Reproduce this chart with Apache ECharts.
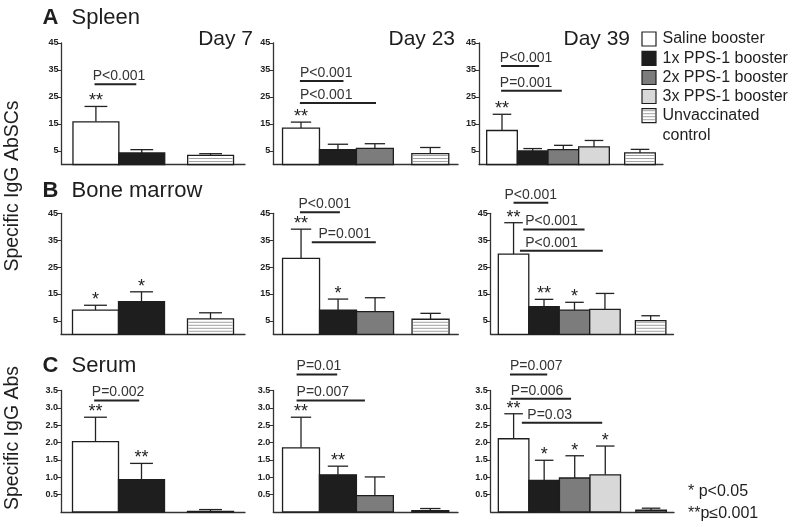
<!DOCTYPE html>
<html><head><meta charset="utf-8">
<script src="https://cdn.jsdelivr.net/npm/echarts@6/dist/echarts.min.js"></script>
<style>html,body{margin:0;padding:0;background:#fff}#c{width:797px;height:527px}</style>
</head><body><div id="c"></div>
<script>
// ---------- data ----------
const groupNames = ['Saline booster','1x PPS-1 booster','2x PPS-1 booster','3x PPS-1 booster','Unvaccinated\ncontrol'];
const dayLabels = ['Day 7','Day 23','Day 39'];
const tissueLabels = ['Spleen','Bone marrow','Serum'];
const panelLetters = ['A','B','C'];
const yTitles = ['Specific IgG AbSCs','Specific IgG Abs'];
const abscTicks = [5,15,25,35,45];
const serumTicks = [0.5,1.0,1.5,2.0,2.5,3.0,3.5];
const footnotes = ['* p<0.05','**p\u22640.001'];

// Spleen
const spleenD7 = [15.8, 4.3, null, null, 3.4];
const spleenD7Err = [5.7, 1.2, null, null, 0.6];
const spleenD7Sig = ['**','','','',''];
const spleenD7P = [[-0.03, 0.88, 29.7, 'P<0.001', -0.07]];
const spleenD23 = [13.5, 5.5, 6.0, null, 4.0];
const spleenD23Err = [2.2, 2.0, 1.7, null, 2.3];
const spleenD23Sig = ['**','','','',''];
const spleenD23P = [[-0.03, 1.15, 30.9, 'P<0.001', -0.03], [-0.03, 2.03, 22.8, 'P<0.001', -0.03]];
const spleenD39 = [12.6, 5.0, 5.5, 6.5, 4.3];
const spleenD39Err = [6.0, 0.9, 1.6, 2.4, 1.3];
const spleenD39Sig = ['**','','','',''];
const spleenD39P = [[-0.03, 1.21, 36.5, 'P<0.001', -0.07], [-0.03, 1.95, 27.3, 'P=0.001', -0.07]];
// Bone marrow
const marrowD7 = [9.0, 12.1, null, null, 5.7];
const marrowD7Err = [1.8, 3.7, null, null, 2.3];
const marrowD7Sig = ['*','*','','',''];
const marrowD7P = [];
const marrowD23 = [28.2, 9.0, 8.4, null, 5.6];
const marrowD23Err = [10.9, 4.1, 5.2, null, 2.2];
const marrowD23Sig = ['**','*','','',''];
const marrowD23P = [[-0.03, 1.05, 45.4, 'P<0.001', -0.07], [0.29, 2.02, 34.2, 'P=0.001', 0.47]];
const marrowD39 = [29.8, 10.3, 9.0, 9.3, 5.1];
const marrowD39Err = [11.7, 2.7, 2.9, 5.9, 1.8];
const marrowD39Sig = ['**','**','*','',''];
const marrowD39P = [[0, 1.14, 48.9, 'P<0.001', -0.3], [0.32, 2.33, 39.0, 'P<0.001', 0.38], [0.21, 2.93, 31.1, 'P<0.001', 0.38]];
// Serum
const serumD7 = [2.03, 0.93, null, null, 0.02];
const serumD7Err = [0.70, 0.47, null, null, 0.05];
const serumD7Sig = ['**','**','','',''];
const serumD7P = [[-0.03, 0.95, 3.21, 'P=0.002', -0.08]];
const serumD23 = [1.85, 1.07, 0.47, null, 0.04];
const serumD23Err = [0.88, 0.25, 0.54, null, 0.06];
const serumD23Sig = ['**','**','','',''];
const serumD23P = [[-0.12, 0.98, 3.96, 'P=0.01', -0.12], [-0.12, 1.73, 3.21, 'P=0.007', -0.12]];
const serumD39 = [2.11, 0.91, 0.98, 1.07, 0.05];
const serumD39Err = [0.72, 0.58, 0.64, 0.83, 0.06];
const serumD39Sig = ['**','*','*','*',''];
const serumD39P = [[-0.12, 1.10, 3.96, 'P=0.007', -0.12], [-0.1, 1.88, 3.26, 'P=0.006', -0.09], [0.27, 2.9, 2.57, 'P=0.03', 0.45]];

// ---------- layout / style ----------
const FONT = '"Liberation Sans", Arial, sans-serif';
const INK = '#1e1e1e';
const FILLS = ['#ffffff', '#1e1e1e', '#7c7c7c', '#d8d8d8', '#ffffff'];
const rowTop = [43, 213.3, 390.5];
const rowBottom = [164.5, 334.3, 512];
const colX = [
  [[61.5,245],[273.3,458],[479,663]],
  [[61,245],[273.3,458.3],[490.7,673.5]],
  [[61,245],[273.3,458],[490.7,674]]
];
const panelData = [
  [[spleenD7, spleenD7Err, spleenD7Sig, spleenD7P],[spleenD23, spleenD23Err, spleenD23Sig, spleenD23P],[spleenD39, spleenD39Err, spleenD39Sig, spleenD39P]],
  [[marrowD7, marrowD7Err, marrowD7Sig, marrowD7P],[marrowD23, marrowD23Err, marrowD23Sig, marrowD23P],[marrowD39, marrowD39Err, marrowD39Sig, marrowD39P]],
  [[serumD7, serumD7Err, serumD7Sig, serumD7P],[serumD23, serumD23Err, serumD23Sig, serumD23P],[serumD39, serumD39Err, serumD39Sig, serumD39P]]
];

const grids = [], xAxes = [], yAxes = [], series = [];
let k = 0;
for (let r = 0; r < 3; r++) {
  for (let c = 0; c < 3; c++) {
    const [mean, err, sig, pv] = panelData[r][c];
    const nBoost = mean.slice(0,4).filter(v => v != null).length;
    const items = [];
    mean.forEach((v, g) => {
      if (v == null) return;
      const pos = g < 4 ? g : nBoost + 0.5;
      items.push({ g, pos, mean: v, err: err[g], sig: sig[g] });
    });
    const [x0, x1] = colX[r][c];
    grids.push({ left: x0, top: rowTop[r], width: x1 - x0, height: rowBottom[r] - rowTop[r] });
    xAxes.push({
      type: 'value', gridIndex: k, min: -0.75, max: nBoost + 1.25,
      axisLine: { show: true, onZero: false, lineStyle: { color: '#333', width: 1.3 } },
      axisTick: { show: false }, axisLabel: { show: false }, splitLine: { show: false }
    });
    const isSerum = r === 2;
    const ticks = isSerum ? serumTicks : abscTicks;
    yAxes.push({
      type: 'value', gridIndex: k, min: 0, max: isSerum ? 3.5 : 45, interval: isSerum ? 0.5 : 5,
      axisLine: { show: true, onZero: false, lineStyle: { color: '#333', width: 1.3 } },
      axisTick: { show: true, length: 4, customValues: ticks, lineStyle: { color: '#333', width: 1 } },
      axisLabel: { show: true, customValues: ticks, margin: 3, fontSize: 9, fontWeight: 'bold', color: '#222', fontFamily: FONT,
        formatter: v => isSerum ? Number(v).toFixed(1) : String(v) },
      splitLine: { show: false }
    });
    series.push({
      type: 'custom', xAxisIndex: k, yAxisIndex: k, clip: false, silent: true,
      data: items.map(b => [b.pos, b.mean]),
      renderItem: (params, api) => {
        const b = items[params.dataIndex];
        const tl = api.coord([b.pos - 0.5, b.mean]);
        const br = api.coord([b.pos + 0.5, 0]);
        const w = br[0] - tl[0], h = br[1] - tl[1];
        const ch = [];
        const ctop = api.coord([b.pos, b.mean]);
        const etop = api.coord([b.pos, b.mean + b.err]);
        const cap = 10 + w * 0.28;
        ch.push({ type: 'line', shape: { x1: ctop[0], y1: ctop[1], x2: etop[0], y2: etop[1] }, style: { stroke: '#222', lineWidth: 1.3 } });
        ch.push({ type: 'line', shape: { x1: etop[0] - cap / 2, y1: etop[1], x2: etop[0] + cap / 2, y2: etop[1] }, style: { stroke: '#222', lineWidth: 1.3 } });
        ch.push({ type: 'rect', shape: { x: tl[0], y: tl[1], width: w, height: h }, style: { fill: FILLS[b.g], stroke: INK, lineWidth: 1.3 } });
        if (b.g === 4) {
          for (let yy = br[1] - 3; yy > tl[1] + 1.5; yy -= 3) {
            ch.push({ type: 'line', shape: { x1: tl[0] + 1, y1: yy, x2: br[0] - 1, y2: yy }, style: { stroke: '#888', lineWidth: 0.8 } });
          }
        }
        if (b.sig) {
          ch.push({ type: 'text', style: { text: b.sig, x: etop[0], y: etop[1] - 5, align: 'center', verticalAlign: 'middle', font: '18px ' + FONT, fill: '#222' } });
        }
        return { type: 'group', children: ch };
      }
    });
    if (pv.length) {
      series.push({
        type: 'custom', xAxisIndex: k, yAxisIndex: k, clip: false, silent: true,
        data: pv.map(p => [p[0], p[2]]),
        renderItem: (params, api) => {
          const p = pv[params.dataIndex];
          const a = api.coord([p[0], p[2]]);
          const b = api.coord([p[1], p[2]]);
          const t = api.coord([p[4], p[2]]);
          return { type: 'group', children: [
            { type: 'line', shape: { x1: a[0], y1: a[1], x2: b[0], y2: b[1] }, style: { stroke: '#222', lineWidth: 2 } },
            { type: 'text', style: { text: p[3], x: t[0], y: t[1] - 1, align: 'left', verticalAlign: 'bottom', font: '14px ' + FONT, fill: '#333' } }
          ] };
        }
      });
    }
    k++;
  }
}

// ---------- text / legend graphics ----------
const graphics = [];
const headY = [18, 191, 365.5];
for (let r = 0; r < 3; r++) {
  graphics.push({ type: 'text', x: 42.5, y: headY[r], style: { text: panelLetters[r], font: 'bold 22px ' + FONT, fill: INK, textAlign: 'left', align: 'left', textVerticalAlign: 'middle', verticalAlign: 'middle' } });
  graphics.push({ type: 'text', x: 71.5, y: headY[r], style: { text: tissueLabels[r], font: '22px ' + FONT, fill: INK, textAlign: 'left', align: 'left', textVerticalAlign: 'middle', verticalAlign: 'middle' } });
}
const dayRight = [253, 455, 630];
dayLabels.forEach((d, i) => {
  graphics.push({ type: 'text', x: dayRight[i], y: 39.5, style: { text: d, font: '21px ' + FONT, fill: INK, textAlign: 'right', align: 'right', textVerticalAlign: 'middle', verticalAlign: 'middle' } });
});
const yTitlePos = [[13, 186], [13, 438]];
yTitles.forEach((t, i) => {
  graphics.push({ type: 'text', x: yTitlePos[i][0], y: yTitlePos[i][1], rotation: Math.PI / 2, style: { text: t, font: '19.5px ' + FONT, fill: INK, textAlign: 'center', align: 'center', textVerticalAlign: 'middle', verticalAlign: 'middle' } });
});
// legend
const legY = [39, 58.3, 77.5, 96.5, 115.7];
groupNames.forEach((n, g) => {
  const y = legY[g];
  graphics.push({ type: 'rect', shape: { x: 642, y: y - 7, width: 14, height: 14 }, style: { fill: FILLS[g], stroke: INK, lineWidth: 1.2 } });
  if (g === 4) {
    for (let yy = y + 4; yy > y - 6; yy -= 3) {
      graphics.push({ type: 'line', shape: { x1: 643, y1: yy, x2: 655, y2: yy }, style: { stroke: '#888', lineWidth: 0.8 } });
    }
  }
  graphics.push({ type: 'text', x: 662.5, y: g === 4 ? y - 9.7 : y, style: { text: n, font: '16px ' + FONT, fill: INK, lineHeight: 19.4, textAlign: 'left', align: 'left', textVerticalAlign: g === 4 ? 'top' : 'middle', verticalAlign: g === 4 ? 'top' : 'middle' } });
});
graphics.push({ type: 'text', x: 688, y: 492, style: { text: footnotes[0], font: '16px ' + FONT, fill: INK, textAlign: 'left', align: 'left', textVerticalAlign: 'middle', verticalAlign: 'middle' } });
graphics.push({ type: 'text', x: 688, y: 513.5, style: { text: footnotes[1], font: '16px ' + FONT, fill: INK, textAlign: 'left', align: 'left', textVerticalAlign: 'middle', verticalAlign: 'middle' } });

const chart = echarts.init(document.getElementById('c'), null, { renderer: 'canvas' });
chart.setOption({
  animation: false,
  backgroundColor: '#ffffff',
  grid: grids, xAxis: xAxes, yAxis: yAxes, series: series,
  graphic: graphics
});
</script>
</body></html>
